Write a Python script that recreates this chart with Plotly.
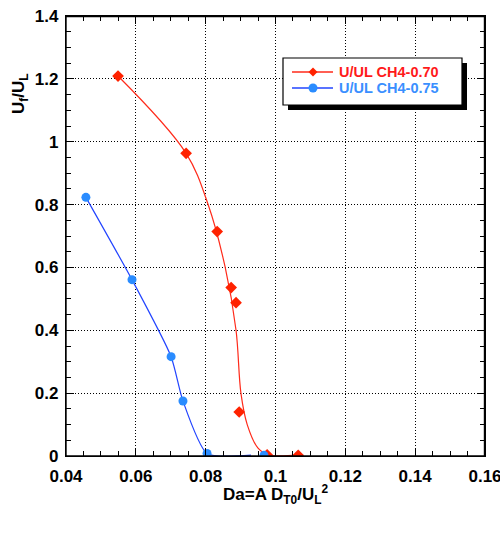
import plotly.graph_objects as go

# Data points
red_x = [0.0549, 0.0744, 0.0833, 0.0873, 0.0887, 0.0896, 0.0976, 0.1065]
red_y = [1.209, 0.963, 0.714, 0.536, 0.488, 0.140, 0.004, 0.002]
blue_x = [0.0457, 0.0589, 0.0701, 0.0735, 0.0804, 0.0967]
blue_y = [0.823, 0.561, 0.316, 0.175, 0.008, 0.002]

# Fitted curves
red_curve_x = [0.0549, 0.0744, 0.0807, 0.0856, 0.0887, 0.0901, 0.0919, 0.0950, 0.0980, 0.1065]
red_curve_y = [1.209, 0.963, 0.800, 0.600, 0.400, 0.200, 0.100, 0.025, 0.004, 0.004]
blue_curve_x = [0.0457, 0.0589, 0.0701, 0.0735, 0.0804, 0.0930]
blue_curve_y = [0.823, 0.561, 0.316, 0.175, 0.008, 0.003]

series_names = ["U/UL CH4-0.70", "U/UL CH4-0.75"]
x_ticks = [0.04, 0.06, 0.08, 0.1, 0.12, 0.14, 0.16]
x_tick_text = ["0.04", "0.06", "0.08", "0.1", "0.12", "0.14", "0.16"]
y_ticks = [0, 0.2, 0.4, 0.6, 0.8, 1.0, 1.2, 1.4]
y_tick_text = ["0", "0.2", "0.4", "0.6", "0.8", "1", "1.2", "1.4"]
x_range = [0.04, 0.16]
y_range = [0, 1.4]

RED_LINE = "#ff2a1a"
RED_MK = "#ff2200"
RED_TXT = "#ff1a1a"
BLUE_LINE = "#2244ff"
BLUE_MK = "#2a8cff"
BLUE_TXT = "#3a8fff"
FONT = "Liberation Sans, Arial, sans-serif"

# plot area in pixels
L, R, T, B = 66, 485, 16, 456
PW, PH = R - L, B - T

def px(xp):
    return (xp - L) / PW

def py(yp):
    return (B - yp) / PH

EPS_X = 1e-7
EPS_Y = 1e-6

fig = go.Figure()
fig.add_trace(go.Scatter(x=red_curve_x, y=red_curve_y, mode="lines", name=series_names[0],
                         line=dict(color=RED_LINE, width=1.2, shape="spline", smoothing=1.0),
                         showlegend=False, hoverinfo="skip"))
fig.add_trace(go.Scatter(x=blue_curve_x, y=blue_curve_y, mode="lines", name=series_names[1],
                         line=dict(color=BLUE_LINE, width=1.2, shape="spline", smoothing=0.6),
                         showlegend=False, hoverinfo="skip"))
fig.add_trace(go.Scatter(x=red_x, y=red_y, mode="markers", name=series_names[0],
                         marker=dict(symbol="diamond", size=9, color=RED_MK),
                         showlegend=False))
fig.add_trace(go.Scatter(x=blue_x, y=blue_y, mode="markers", name=series_names[1],
                         marker=dict(symbol="circle", size=9, color=BLUE_MK),
                         showlegend=False))
# empty trace that anchors the mirrored (top/right) tick axes
fig.add_trace(go.Scatter(x=[None], y=[None], xaxis="x2", yaxis="y2",
                         showlegend=False, hoverinfo="skip"))

tickfont = dict(family=FONT, size=17, color="black", weight="bold")
axis_common = dict(showline=True, linecolor="black", linewidth=1.2,
                   ticks="inside", ticklen=8, tickcolor="black", tickwidth=1,
                   zeroline=False, automargin=False)
xr = [x_range[0] - EPS_X, x_range[1] + EPS_X]
yr = [y_range[0] - EPS_Y, y_range[1] + EPS_Y]
xminor = dict(dtick=0.005, tick0=0, ticks="inside", ticklen=5, tickcolor="black", showgrid=False)
yminor = dict(dtick=0.05, tick0=0, ticks="inside", ticklen=5, tickcolor="black", showgrid=False)

fig.update_layout(
    xaxis=dict(range=xr, tickvals=x_ticks, ticktext=x_tick_text, tickfont=tickfont,
               ticklabelstandoff=4, ticklabeloverflow="allow",
               showgrid=True, gridcolor="black", griddash="1px,2px",
               gridwidth=1, minor=xminor, mirror="ticks", **axis_common),
    yaxis=dict(range=yr, tickvals=y_ticks, ticktext=y_tick_text, tickfont=tickfont,
               ticklabelstandoff=3, ticklabeloverflow="allow",
               showgrid=True, gridcolor="black", griddash="1px,2px",
               gridwidth=1, minor=yminor, mirror="ticks", **axis_common),
    xaxis2=dict(range=xr, tickvals=x_ticks, showticklabels=False, overlaying="x",
                side="top", anchor="y2", showgrid=False, minor=xminor, **axis_common),
    yaxis2=dict(range=yr, tickvals=y_ticks, showticklabels=False, overlaying="y",
                side="right", anchor="x2", showgrid=False, minor=yminor, **axis_common),
)

# Legend box (drawn by hand to match the compact original)
LX0, LX1, LY0, LY1 = 283, 462, 58, 105
SH = 5
shapes = [
    dict(type="rect", xref="paper", yref="paper",
         x0=0, x1=px(R - 0.5), y0=0, y1=py(T + 0.5),
         line=dict(color="black", width=1.4), layer="above"),
    dict(type="rect", xref="paper", yref="paper",
         x0=px(LX0 + SH), x1=px(LX1 + SH), y0=py(LY1 + SH), y1=py(LY0 + SH),
         fillcolor="black", line=dict(width=0), layer="above"),
    dict(type="rect", xref="paper", yref="paper",
         x0=px(LX0), x1=px(LX1), y0=py(LY1), y1=py(LY0),
         fillcolor="white", line=dict(color="black", width=1.2), layer="above"),
]
rows = [(72, RED_LINE, RED_MK, RED_TXT, "diamond", series_names[0]),
        (88, BLUE_LINE, BLUE_MK, BLUE_TXT, "circle", series_names[1])]
annotations = []
for yy, lc, mc, tc, sym, name in rows:
    shapes.append(dict(type="line", xref="paper", yref="paper",
                       x0=px(292), x1=px(333), y0=py(yy), y1=py(yy),
                       line=dict(color=lc, width=1.5), layer="above"))
    cx = 313
    r = 4.5
    if sym == "diamond":
        path = (f"M {px(cx - r)},{py(yy)} L {px(cx)},{py(yy - r)} "
                f"L {px(cx + r)},{py(yy)} L {px(cx)},{py(yy + r)} Z")
        shapes.append(dict(type="path", xref="paper", yref="paper", path=path,
                           fillcolor=mc, line=dict(width=0), layer="above"))
    else:
        shapes.append(dict(type="circle", xref="paper", yref="paper",
                           x0=px(cx - r), x1=px(cx + r), y0=py(yy + r), y1=py(yy - r),
                           fillcolor=mc, line=dict(width=0), layer="above"))
    annotations.append(dict(text=name, xref="paper", yref="paper",
                            x=px(337), y=py(yy), xanchor="left", yanchor="middle",
                            showarrow=False,
                            font=dict(family=FONT, size=14.5, color=tc, weight="bold")))

annotations += [
    dict(text="Da=A D<sub>T0</sub>/U<sub>L</sub><sup>2</sup>", xref="paper", yref="paper",
         x=0.5, y=py(480), xanchor="center", yanchor="top", showarrow=False,
         font=dict(family=FONT, size=17, color="black", weight="bold")),
    dict(text="U<sub>f</sub>/U<sub>L</sub>", xref="paper", yref="paper",
         x=px(20), y=py(94), xanchor="center", yanchor="middle", showarrow=False,
         textangle=-90, font=dict(family=FONT, size=17, color="black", weight="bold")),
]

fig.update_layout(
    width=500, height=540,
    margin=dict(l=L, r=500 - R, t=T, b=540 - B),
    paper_bgcolor="white", plot_bgcolor="white",
    showlegend=False,
    shapes=shapes,
    annotations=annotations,
)

fig.write_html(
    "out.html",
    config={"displayModeBar": False},
    post_script=("document.body.style.margin='0';"
                 "document.body.style.overflow='hidden';"
                 "document.documentElement.style.overflow='hidden';"),
)
